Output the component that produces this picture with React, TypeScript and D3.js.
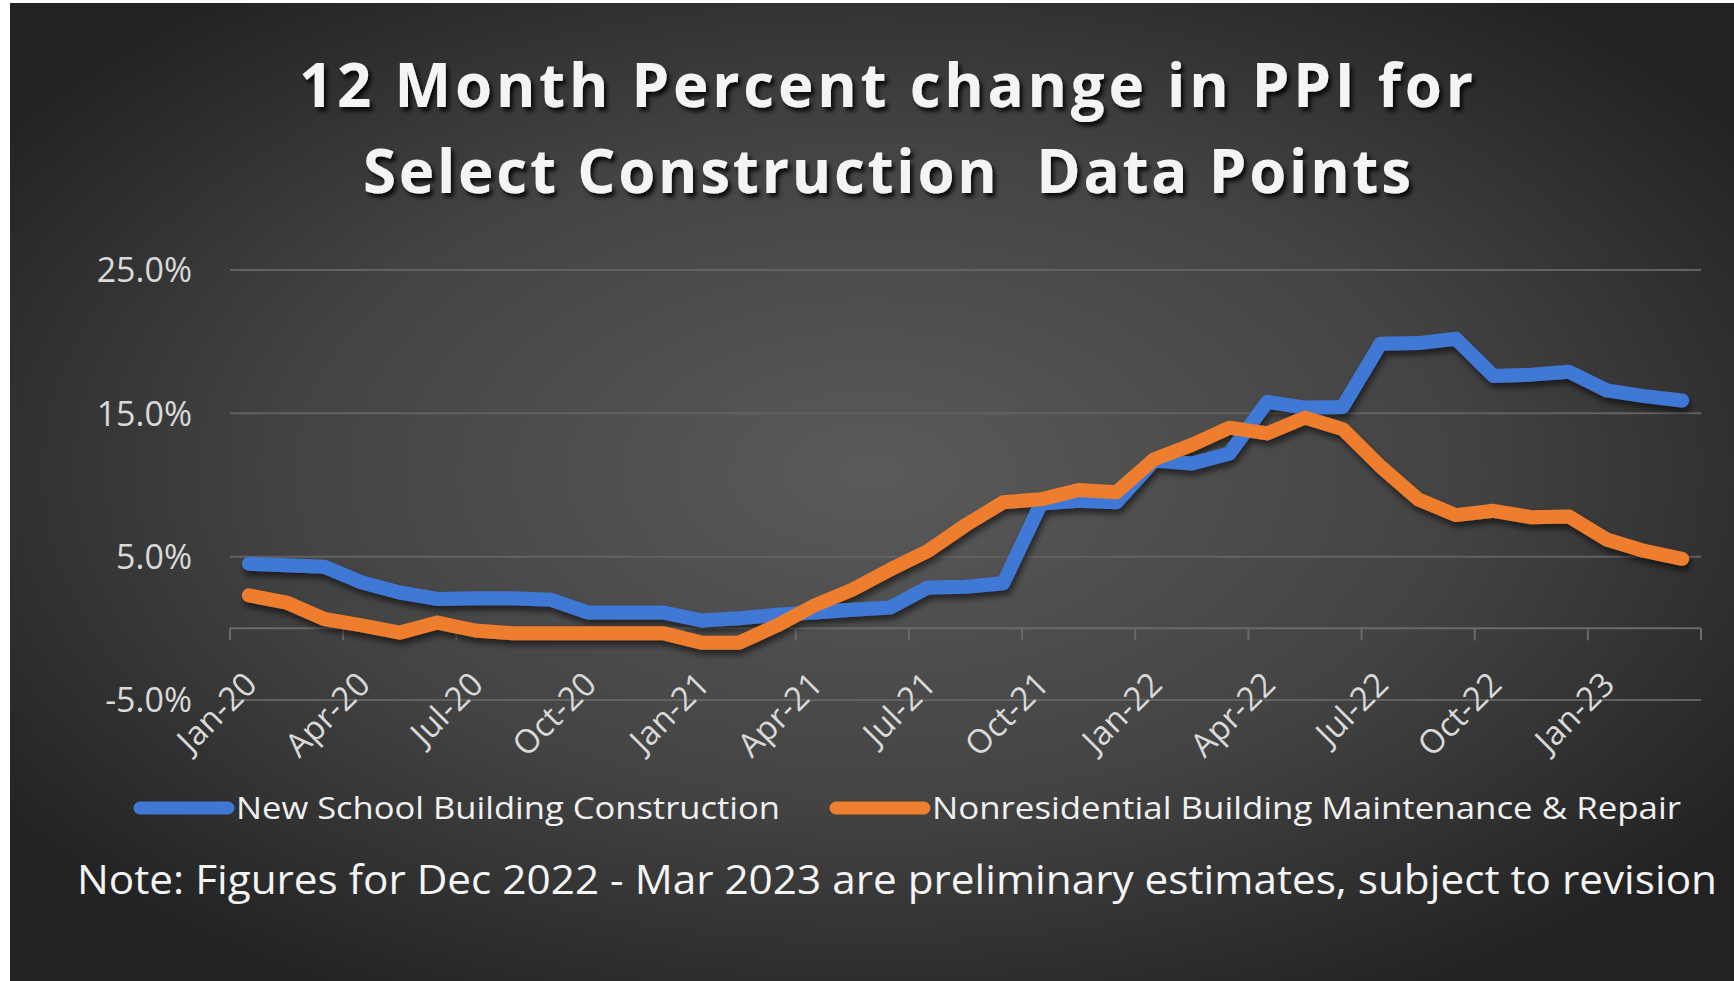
import React from "react";
import * as d3 from "d3";

const W = 1734, H = 981;

const MONTHS = [
  "Jan-20", "Feb-20", "Mar-20", "Apr-20", "May-20", "Jun-20", "Jul-20", "Aug-20", "Sep-20", "Oct-20", "Nov-20", "Dec-20",
  "Jan-21", "Feb-21", "Mar-21", "Apr-21", "May-21", "Jun-21", "Jul-21", "Aug-21", "Sep-21", "Oct-21", "Nov-21", "Dec-21",
  "Jan-22", "Feb-22", "Mar-22", "Apr-22", "May-22", "Jun-22", "Jul-22", "Aug-22", "Sep-22", "Oct-22", "Nov-22", "Dec-22",
  "Jan-23", "Feb-23", "Mar-23",
];

// 12 month % change, New School Building Construction
const SCHOOL = [
  4.5, 4.4, 4.3, 3.2, 2.5, 2.05, 2.1, 2.1, 2.0, 1.1, 1.1, 1.1,
  0.55, 0.7, 0.95, 1.1, 1.3, 1.45, 2.85, 2.9, 3.15, 8.7, 8.9, 8.8,
  11.7, 11.5, 12.2, 15.8, 15.4, 15.45, 19.85, 19.9, 20.2, 17.6, 17.7, 17.9,
  16.6, 16.2, 15.9,
];

// 12 month % change, Nonresidential Building Maintenance & Repair
const REPAIR = [
  2.3, 1.8, 0.65, 0.2, -0.3, 0.4, -0.15, -0.35, -0.35, -0.35, -0.35, -0.35,
  -1.0, -1.0, 0.2, 1.6, 2.7, 4.1, 5.4, 7.2, 8.8, 9.0, 9.65, 9.5,
  11.8, 12.8, 14.0, 13.6, 14.7, 13.9, 11.3, 9.0, 7.9, 8.2, 7.75, 7.8,
  6.2, 5.4, 4.85,
];

const Y_TICKS = [-5, 5, 15, 25];
const SERIES = [
  { name: "New School Building Construction", values: SCHOOL, color: "#4178d6" },
  { name: "Nonresidential Building Maintenance & Repair", values: REPAIR, color: "#ef7d2f" },
];

const FONT = "'Open Sans', 'DejaVu Sans', sans-serif";

export default function App() {
  const x = d3.scaleBand<string>().domain(MONTHS).range([230, 1701]).padding(0);
  const y = d3.scaleLinear().domain([-5, 25]).range([700, 270]);
  const bw = x.bandwidth();
  const cx = (m: string) => (x(m) as number) + bw / 2;

  const line = d3.line<number>()
    .x((_, i) => cx(MONTHS[i]))
    .y(d => y(d));

  const tickIdx = MONTHS.map((_, i) => i).filter(i => i % 3 === 0);
  const tickXs = [...tickIdx.map(i => x(MONTHS[i]) as number), x.range()[1]];

  return (
    <svg width={W} height={H} style={{ position: "absolute", left: 0, top: 0 }}>
      <defs>
        <radialGradient id="bg" cx="50%" cy="48%" r="62%">
          <stop offset="0%" stopColor="#5a5a5a" />
          <stop offset="55%" stopColor="#434343" />
          <stop offset="100%" stopColor="#222222" />
        </radialGradient>
        <filter id="titleShadow" x="-5%" y="-20%" width="110%" height="150%">
          <feDropShadow dx="3" dy="4" stdDeviation="2" floodColor="#000" floodOpacity="0.85" />
        </filter>
        <filter id="lineShadow" x="-5%" y="-10%" width="110%" height="130%">
          <feDropShadow dx="2" dy="5" stdDeviation="3" floodColor="#000" floodOpacity="0.55" />
        </filter>
      </defs>

      <rect width={W} height={H} fill="#fff" />
      <rect x={10} y={3} width={W - 10} height={H - 3} fill="url(#bg)" />

      {/* Title */}
      <g fill="#f4f4f4" fontFamily={FONT} fontWeight={700} fontSize={60} textAnchor="middle" filter="url(#titleShadow)">
        <text x={886} y={107} textLength={1174} lengthAdjust="spacing">12 Month Percent change in PPI for</text>
        <text x={887} y={193} textLength={1048} lengthAdjust="spacing" style={{ whiteSpace: "pre" }}>Select Construction  Data Points</text>
      </g>

      {/* Gridlines */}
      {Y_TICKS.map(t => (
        <line key={t} x1={230} x2={1701} y1={y(t)} y2={y(t)} stroke="#626262" strokeWidth={2} />
      ))}
      {/* Zero axis + tick marks */}
      <line x1={230} x2={1701} y1={y(0)} y2={y(0)} stroke="#6a6a6a" strokeWidth={2} />
      {tickXs.map((tx, i) => (
        <line key={i} x1={tx} x2={tx} y1={y(0)} y2={y(0) + 12} stroke="#6a6a6a" strokeWidth={2} />
      ))}

      {/* Y labels */}
      <g fill="#d9d9d9" fontFamily={FONT} fontSize={34} textAnchor="end">
        {Y_TICKS.map(t => (
          <text key={t} x={192} y={y(t)} dy="0.36em">{t.toFixed(1)}%</text>
        ))}
      </g>

      {/* X labels */}
      <g fill="#d9d9d9" fontFamily={FONT} fontSize={33} textAnchor="end">
        {tickIdx.map(i => (
          <text key={i} transform={`translate(${cx(MONTHS[i]) + 10},${y(0) + 58}) rotate(-45)`}>{MONTHS[i]}</text>
        ))}
      </g>

      {/* Series */}
      <g filter="url(#lineShadow)">
        {SERIES.map(s => (
          <path key={s.name} d={line(s.values) || ""} fill="none" stroke={s.color} strokeWidth={14}
            strokeLinejoin="round" strokeLinecap="round" />
        ))}
      </g>

      {/* Legend */}
      <g fontFamily={FONT} fontSize={31} fill="#f0f0f0">
        <line x1={140} x2={228} y1={808} y2={808} stroke={SERIES[0].color} strokeWidth={13} strokeLinecap="round" />
        <text x={236} y={819} textLength={544} lengthAdjust="spacingAndGlyphs">{SERIES[0].name}</text>
        <line x1={836} x2={924} y1={808} y2={808} stroke={SERIES[1].color} strokeWidth={13} strokeLinecap="round" />
        <text x={932} y={819} textLength={749} lengthAdjust="spacingAndGlyphs">{SERIES[1].name}</text>
      </g>

      {/* Note */}
      <text x={77} y={894} fontFamily={FONT} fontSize={41} fill="#f4f4f4" textLength={1640} lengthAdjust="spacingAndGlyphs">
        Note: Figures for Dec 2022 - Mar 2023 are preliminary estimates, subject to revision
      </text>
    </svg>
  );
}
